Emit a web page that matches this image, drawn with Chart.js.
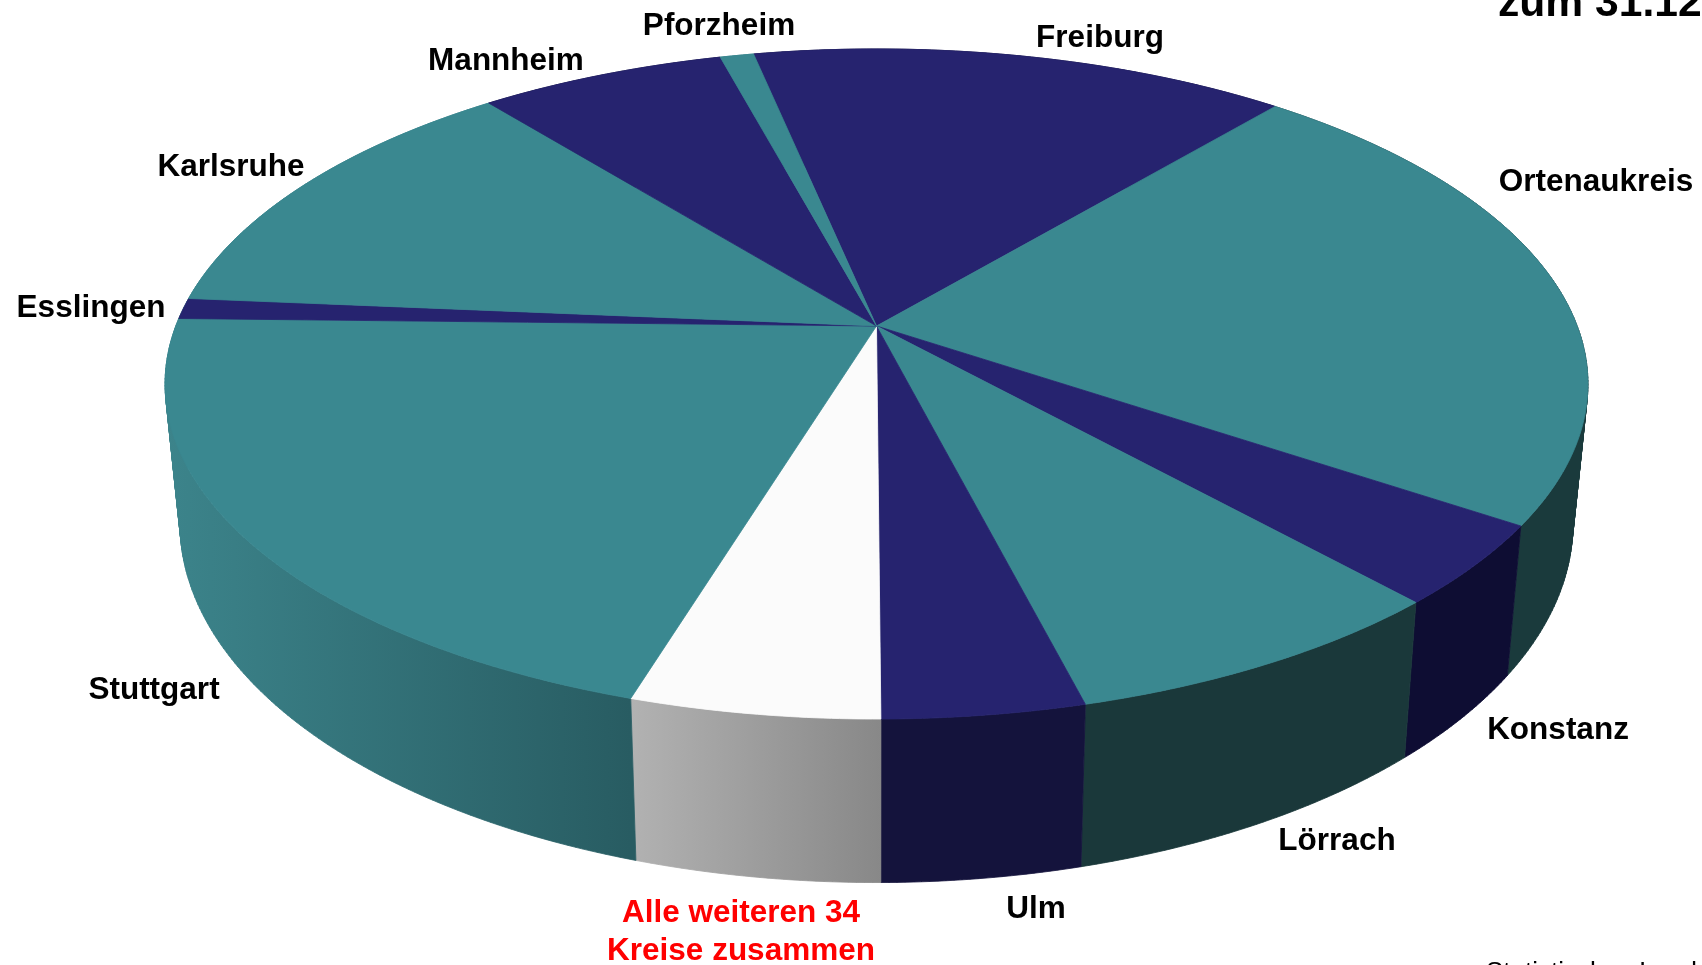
<!DOCTYPE html>
<html lang="de">
<head>
<meta charset="utf-8">
<title>Kreise</title>
<script src="https://cdn.jsdelivr.net/npm/chart.js@4"></script>
<style>
	html, body { margin: 0; padding: 0; background: #fff; overflow: hidden; }
	canvas { display: block; }
</style>
</head>
<body>
<canvas id="chart-pie-3d" width="1702" height="965"></canvas>
<script>
// Chart data, share of each Kreis in percent
const CATEGORIES = ["Freiburg", "Ortenaukreis", "Konstanz", "Lörrach", "Ulm", ["Alle weiteren 34", "Kreise zusammen"], "Stuttgart", "Esslingen", "Karlsruhe", "Mannheim", "Pforzheim"];
const VALUES = [14.4, 23.2, 3.9, 7.7, 3.9, 4.8, 20.6, 1.0, 12.8, 6.6, 0.9];
const FIRST_SLICE_ANGLE = -11.84;

// Colours
const TEAL = "#3a8890";
const NAVY = "#26236f";
const TOP_COLORS = [NAVY, TEAL, NAVY, TEAL, NAVY, "#fbfbfb", TEAL, NAVY, TEAL, NAVY, TEAL];
const WALL_COLORS = [
	["#14133c", "#14133c"], ["#1a3a3c", "#1a3a3c"], ["#0e0d33", "#0e0d33"], ["#1a383a", "#1a383a"], ["#14133c", "#14133c"],
	["#b2b2b2", "#888888"], ["#3c848b", "#285c62"],
	["#3c848b", "#3c848b"], ["#3c848b", "#3c848b"], ["#14133c", "#14133c"], ["#3c848b", "#3c848b"],
];

// Centre of each label, same order as CATEGORIES
const LABEL_POS = [[1100, 38], [1596, 182], [1558, 730], [1337, 841], [1036, 909], [741, 932], [154, 690], [91, 308], [231, 167], [506, 61], [719, 26]];
const LABEL_COLORS = ["#000", "#000", "#000", "#000", "#000", "#f00", "#000", "#000", "#000", "#000", "#000"];

// Perspective of the disc
const DISC = { cx: 876.5, cy: 326, a: 700.7, b: 325, k: 0.1731 };
const BASE = { scale: 0.979, height: 135.2 };

const project = (angle) => {
	const u = Math.cos(angle);
	const v = Math.sin(angle);
	const w = 1 - DISC.k * v;
	return [DISC.cx + (DISC.a * u) / w, DISC.cy + (DISC.b * v) / w];
};

// same rim one wall height lower, the wall gets shorter towards the back
const projectBase = (angle) => {
	const [x, y] = project(angle);
	const w = 1 - DISC.k * Math.sin(angle);
	return [DISC.cx + (x - DISC.cx) * BASE.scale, y + BASE.height / w];
};

const rim = (start, end, fn) => {
	const pts = [];
	const steps = Math.max(2, Math.ceil((end - start) / 0.01));
	for (let i = 0; i <= steps; i++) {
		pts.push(fn(start + ((end - start) * i) / steps));
	}
	return pts;
};

const addPoly = (ctx, pts) => {
	pts.forEach(([x, y], i) => (i ? ctx.lineTo(x, y) : ctx.moveTo(x, y)));
	ctx.closePath();
};

const signedArea = (pts) => pts.reduce((sum, [x, y], i) => {
	const [nx, ny] = pts[(i + 1) % pts.length];
	return sum + x * ny - nx * y;
}, 0);

const disc3d = {
	id: "disc3d",
	beforeDatasetsDraw(chart) {
		const ctx = chart.ctx;
		const arcs = chart.getDatasetMeta(0).data;
		ctx.save();
		ctx.lineWidth = 0.8;
		// side wall first, the top covers whatever is behind it
		arcs.forEach((arc, i) => {
			const top = rim(arc.startAngle, arc.endAngle, project);
			const base = rim(arc.startAngle, arc.endAngle, projectBase);
			const xs = top.map((p) => p[0]);
			const grad = ctx.createLinearGradient(Math.min(...xs), 0, Math.max(...xs), 0);
			grad.addColorStop(0, WALL_COLORS[i][0]);
			grad.addColorStop(1, WALL_COLORS[i][1]);
			// quads in one path, all wound the same way so the fold at the sides does not cancel out
			ctx.beginPath();
			for (let n = 0; n < top.length - 1; n++) {
				const quad = [top[n], top[n + 1], base[n + 1], base[n]];
				addPoly(ctx, signedArea(quad) < 0 ? quad.reverse() : quad);
			}
			ctx.fillStyle = grad;
			ctx.strokeStyle = grad;
			ctx.fill();
			ctx.stroke();
		});
		arcs.forEach((arc, i) => {
			ctx.beginPath();
			addPoly(ctx, [[DISC.cx, DISC.cy]].concat(rim(arc.startAngle, arc.endAngle, project)));
			ctx.fillStyle = TOP_COLORS[i];
			ctx.strokeStyle = TOP_COLORS[i];
			ctx.fill();
			ctx.stroke();
		});
		ctx.restore();
		return false;
	},
	afterDraw(chart) {
		const ctx = chart.ctx;
		ctx.save();
		ctx.textAlign = "center";
		ctx.textBaseline = "middle";
		ctx.font = 'bold 31.5px "Liberation Sans"';
		CATEGORIES.forEach((label, i) => {
			const lines = [].concat(label);
			ctx.fillStyle = LABEL_COLORS[i];
			lines.forEach((line, n) => {
				ctx.fillText(line, LABEL_POS[i][0], LABEL_POS[i][1] + (n - (lines.length - 1) / 2) * 38);
			});
		});
		// clipped by the picture edge in the original too
		ctx.textAlign = "left";
		ctx.textBaseline = "alphabetic";
		ctx.font = 'bold 42.6px "Liberation Sans"';
		ctx.fillStyle = "#000";
		ctx.fillText("zum 31.12", 1498, 16);
		ctx.font = '26px "Liberation Sans"';
		ctx.fillText("Statistisches Landesamt", 1486, 980);
		ctx.restore();
	},
};

new Chart(document.getElementById("chart-pie-3d"), {
	type: "pie",
	data: {
		labels: CATEGORIES,
		datasets: [{ data: VALUES, backgroundColor: TOP_COLORS, borderWidth: 0 }],
	},
	options: {
		responsive: false,
		animation: false,
		rotation: FIRST_SLICE_ANGLE,
		plugins: {
			legend: { display: false },
			tooltip: { enabled: false },
		},
	},
	plugins: [disc3d],
});
</script>
</body>
</html>
